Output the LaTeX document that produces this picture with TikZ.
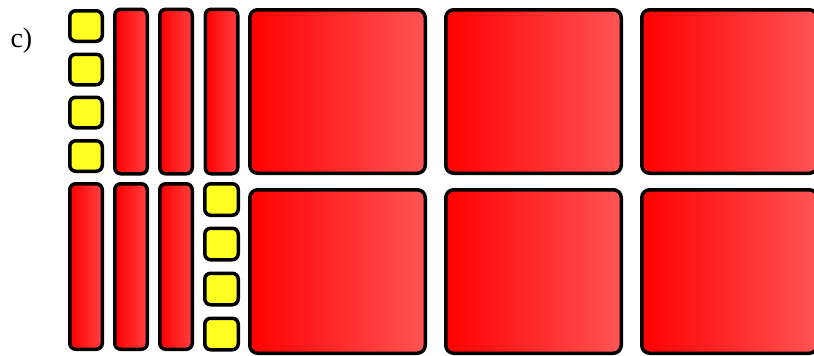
\documentclass[tikz,border=0pt]{standalone}
\usepackage{fontspec}
\setmainfont{Liberation Serif}
\usetikzlibrary{positioning}
\definecolor{tileyellow}{HTML}{FFFF22}

\begin{document}
\begin{tikzpicture}[x=1pt,y=-1pt,
blk/.style={draw=black,line width=3.5pt,inner sep=0pt,outer sep=0pt},
ybox/.style={blk,rounded corners=6pt,fill=tileyellow,minimum width=32.5pt,minimum height=30.5pt},
bar/.style={blk,rounded corners=6pt,minimum width=32.5pt,minimum height=164.5pt,
left color=red,right color=red!75!white},
big/.style={blk,rounded corners=8pt,minimum width=175.5pt,minimum height=163.5pt,
left color=red,right color=red!67!white}
]
\useasboundingbox (0,0) rectangle (814,356);
\node[anchor=base west,font=\fontsize{28}{33}\selectfont] (lbl) at (7,47) {c)};

% top row
\foreach \i/\yy in {1/26,2/69.5,3/112.5,4/156}
  \node[ybox] (ya\i) at (86,\yy) {};
\foreach \i/\xx in {1/131,2/176,3/221.5}
  \node[bar] (ba\i) at (\xx,91.5) {};
\foreach \i/\xx in {1/337.5,2/533.5,3/729.5}
  \node[big] (ga\i) at (\xx,91.5) {};

% bottom row
\foreach \i/\xx in {1/86,2/131,3/176}
  \node[bar,minimum height=165.5pt] (bb\i) at (\xx,266.5) {};
\foreach \i/\yy in {1/199.5,2/244,3/289,4/334}
  \node[ybox,minimum width=33.5pt,minimum height=31.5pt] (yb\i) at (221.5,\yy) {};
\foreach \i/\xx in {1/337.5,2/533.5,3/729.5}
  \node[big] (gb\i) at (\xx,271.5) {};
\end{tikzpicture}
\end{document}
